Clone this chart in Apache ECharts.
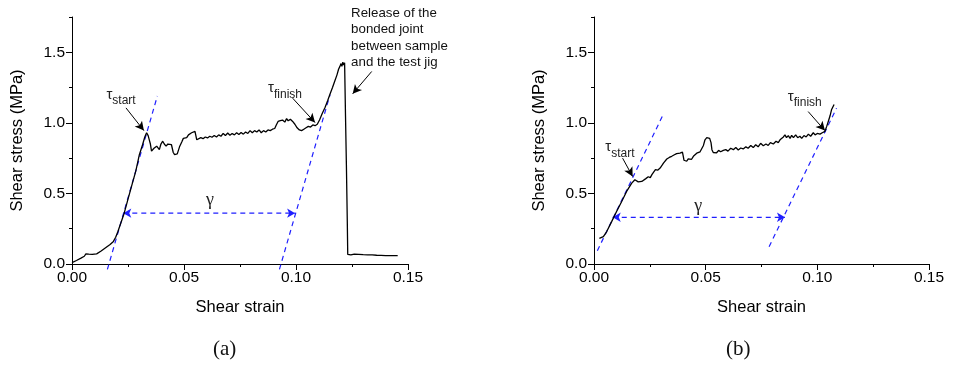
<!DOCTYPE html>
<html>
<head>
<meta charset="utf-8">
<script src="https://cdn.jsdelivr.net/npm/echarts@6/dist/echarts.min.js"></script>
<style>html,body{margin:0;padding:0;background:#fff}#c{width:955px;height:369px}</style>
</head>
<body>
<div id="c"></div>
<script>
// ---- Panel (a) curve ----
const strainA = [0.0000,0.0020,0.0040,0.0055,0.0062,0.0075,0.0090,0.0110,0.0130,0.0150,0.0170,0.0185,0.0195,0.0205,0.0218,0.0233,0.0250,0.0270,0.0285,0.0300,0.0315,0.0325,0.0333,0.0340,0.0345,0.0350,0.0355,0.0360,0.0366,0.0372,0.0378,0.0384,0.0390,0.0397,0.0405,0.0412,0.0420,0.0428,0.0436,0.0444,0.0452,0.0458,0.0463,0.0470,0.0480,0.0490,0.0497,0.0505,0.0512,0.0520,0.0527,0.0534,0.0540,0.0549,0.0553,0.0557,0.0565,0.0575,0.0585,0.0595,0.0605,0.0615,0.0625,0.0635,0.0645,0.0655,0.0665,0.0675,0.0685,0.0695,0.0705,0.0715,0.0725,0.0735,0.0745,0.0755,0.0765,0.0775,0.0785,0.0795,0.0805,0.0815,0.0825,0.0835,0.0845,0.0855,0.0865,0.0875,0.0885,0.0895,0.0905,0.0912,0.0920,0.0930,0.0940,0.0950,0.0958,0.0965,0.0975,0.0985,0.0995,0.1005,0.1015,0.1025,0.1035,0.1045,0.1055,0.1065,0.1075,0.1085,0.1095,0.1105,0.1118,0.1130,0.1142,0.1152,0.1163,0.1174,0.1183,0.1190,0.1196,0.1201,0.1205,0.1209,0.1213,0.1217,0.1219,0.1221,0.1225,0.1229,0.1231,0.1245,0.1260,0.1280,0.1300,0.1320,0.1340,0.1360,0.1380,0.1400,0.1420,0.1440,0.1454];
const stressA = [0.010,0.025,0.042,0.055,0.072,0.070,0.068,0.072,0.092,0.115,0.138,0.160,0.190,0.230,0.290,0.360,0.460,0.575,0.660,0.770,0.845,0.900,0.930,0.910,0.880,0.850,0.800,0.795,0.820,0.810,0.835,0.825,0.810,0.850,0.870,0.850,0.835,0.850,0.840,0.845,0.790,0.775,0.765,0.780,0.830,0.865,0.890,0.900,0.895,0.915,0.905,0.930,0.920,0.940,0.930,0.880,0.885,0.895,0.888,0.900,0.893,0.905,0.898,0.910,0.900,0.915,0.905,0.925,0.910,0.928,0.912,0.925,0.915,0.930,0.918,0.932,0.920,0.935,0.925,0.945,0.930,0.945,0.935,0.950,0.930,0.945,0.935,0.950,0.945,0.955,0.960,0.985,1.010,1.015,1.020,1.005,1.030,1.015,1.025,1.010,0.990,0.965,0.950,0.945,0.955,0.965,0.975,0.970,0.985,0.980,0.990,1.020,1.070,1.110,1.160,1.205,1.250,1.300,1.340,1.380,1.400,1.420,1.400,1.430,1.410,1.425,1.430,1.050,0.700,0.300,0.068,0.065,0.070,0.068,0.066,0.065,0.064,0.062,0.061,0.060,0.059,0.060,0.060];

// ---- Panel (b) curve ----
const strainB = [0.0024,0.0042,0.0057,0.0079,0.0101,0.0124,0.0146,0.0169,0.0183,0.0190,0.0198,0.0206,0.0214,0.0221,0.0232,0.0243,0.0252,0.0260,0.0268,0.0275,0.0285,0.0296,0.0305,0.0311,0.0318,0.0326,0.0337,0.0348,0.0358,0.0370,0.0378,0.0385,0.0391,0.0396,0.0400,0.0403,0.0409,0.0415,0.0422,0.0430,0.0437,0.0445,0.0452,0.0460,0.0467,0.0475,0.0482,0.0490,0.0497,0.0505,0.0512,0.0518,0.0524,0.0528,0.0534,0.0542,0.0549,0.0558,0.0567,0.0579,0.0590,0.0600,0.0612,0.0624,0.0635,0.0646,0.0657,0.0668,0.0680,0.0690,0.0702,0.0713,0.0724,0.0735,0.0746,0.0758,0.0770,0.0780,0.0790,0.0803,0.0815,0.0825,0.0833,0.0840,0.0848,0.0855,0.0862,0.0870,0.0878,0.0885,0.0893,0.0903,0.0912,0.0922,0.0930,0.0940,0.0950,0.0960,0.0970,0.0982,0.0990,0.1000,0.1012,0.1022,0.1034,0.1042,0.1049,0.1057,0.1064,0.1075];
const stressB = [0.182,0.194,0.230,0.300,0.372,0.443,0.514,0.573,0.597,0.590,0.582,0.592,0.585,0.597,0.605,0.618,0.612,0.635,0.645,0.668,0.665,0.680,0.700,0.715,0.728,0.744,0.755,0.763,0.772,0.782,0.776,0.785,0.778,0.792,0.760,0.735,0.740,0.728,0.745,0.750,0.742,0.763,0.770,0.785,0.787,0.795,0.800,0.840,0.880,0.895,0.905,0.890,0.860,0.810,0.790,0.795,0.788,0.805,0.795,0.805,0.810,0.800,0.820,0.810,0.825,0.808,0.822,0.815,0.830,0.820,0.840,0.825,0.845,0.830,0.855,0.838,0.850,0.840,0.860,0.850,0.870,0.860,0.880,0.870,0.900,0.915,0.895,0.910,0.890,0.912,0.895,0.915,0.895,0.905,0.890,0.910,0.900,0.920,0.905,0.930,0.915,0.925,0.920,0.930,0.940,0.975,1.010,1.050,1.095,1.130];

// ---- Construction lines (dashed blue) ----
const tangentA1 = [[0.0158, -0.038], [0.0381, 1.19]];
const tangentA2 = [[0.0926, -0.038], [0.1152, 1.20]];
const gammaA = { y: 0.36, x1: 0.0229, x2: 0.0996, labelX: 0.0616, labelY: 0.455 };
const tangentB1 = [[0.0015, 0.094], [0.0313, 1.069]];
const tangentB2 = [[0.0784, 0.123], [0.1086, 1.104]];
const gammaB = { y: 0.331, x1: 0.0084, x2: 0.0855, labelX: 0.0467, labelY: 0.406 };

// ---- Annotation arrows and labels ----
const startArrowA = [[0.0241, 1.106], [0.0321, 0.945]];
const finishArrowA = [[0.0985, 1.175], [0.1085, 1.002]];
const releaseArrowA = [[0.1338, 1.364], [0.1253, 1.206]];
const startLabelA = [0.0219, 1.184];
const finishLabelA = [0.0951, 1.227];
const releaseLabelA = [0.1246, 1.75];
const startArrowB = [[0.0128, 0.75], [0.0173, 0.62]];
const finishArrowB = [[0.0959, 1.08], [0.1034, 0.945]];
const startLabelB = [0.01163, 0.809];
const finishLabelB = [0.0944, 1.17];
const releaseText = 'Release of the\nbonded joint\nbetween sample\nand the test jig';

// ---- Axes ----
const xMin = 0, xMax = 0.15, xInterval = 0.05;
const yMin = 0, yMax = 1.75;
const yMajorTicks = [0, 0.5, 1.0, 1.5];
const yMinorTicks = [0.25, 0.75, 1.25, 1.75];
const panelLabels = ['(a)', '(b)'];

const FONT = 'Liberation Sans, Arial, sans-serif';
const BLUE = '#1f1fff';

function zip(xs, ys) { return xs.map((x, i) => [x, ys[i]]); }

function xAxis(gi) {
  return {
    type: 'value', gridIndex: gi, min: xMin, max: xMax, interval: xInterval,
    axisLine: { show: true, lineStyle: { color: '#000', width: 1 } },
    axisTick: { show: true, length: 6, lineStyle: { color: '#000' } },
    minorTick: { show: true, splitNumber: 2, length: 3, lineStyle: { color: '#000' } },
    splitLine: { show: false }, minorSplitLine: { show: false },
    axisLabel: { color: '#000', fontSize: 15.5, fontFamily: FONT, margin: 6,
      formatter: v => v.toFixed(2) },
    name: 'Shear strain', nameLocation: 'middle', nameGap: 35,
    nameTextStyle: { color: '#000', fontSize: 16.5, fontFamily: FONT }
  };
}
function yAxisMain(gi) {
  return {
    type: 'value', gridIndex: gi, min: yMin, max: yMax, position: 'left',
    axisLine: { show: true, lineStyle: { color: '#000', width: 1 } },
    axisTick: { show: true, length: 6, customValues: yMajorTicks, lineStyle: { color: '#000' } },
    splitLine: { show: false },
    axisLabel: { color: '#000', fontSize: 15.5, fontFamily: FONT, margin: 7,
      customValues: yMajorTicks, formatter: v => v.toFixed(1) },
    name: 'Shear stress (MPa)', nameLocation: 'middle', nameGap: 46,
    nameTextStyle: { color: '#000', fontSize: 16.5, fontFamily: FONT }
  };
}
function yAxisMinor(gi) {
  return {
    type: 'value', gridIndex: gi, min: yMin, max: yMax, position: 'left',
    axisLine: { show: false },
    axisTick: { show: true, length: 3, customValues: yMinorTicks, lineStyle: { color: '#000' } },
    splitLine: { show: false }, axisLabel: { show: false }
  };
}

function dashed(data, xi, yi) {
  return { type: 'line', xAxisIndex: xi, yAxisIndex: yi, data, symbol: 'none', clip: false,
    silent: true, color: BLUE, lineStyle: { color: BLUE, width: 1.2, type: [5, 4] }, z: 3 };
}
function gammaLine(g, xi, yi) {
  return { type: 'line', xAxisIndex: xi, yAxisIndex: yi, silent: true, color: BLUE,
    symbol: 'arrow', symbolSize: [7, 8], showSymbol: true,
    itemStyle: { color: BLUE },
    lineStyle: { color: BLUE, width: 1.2, type: [5, 4] }, z: 3,
    data: [{ value: [g.x1, g.y], symbolRotate: 90 }, { value: [g.x2, g.y], symbolRotate: -90 }] };
}
function tauLabel(coord, sub) {
  return {
    coord, symbol: 'circle', symbolSize: 0,
    label: { show: true, position: 'inside', formatter: '{t|τ}{s|' + sub + '}',
      rich: {
        t: { fontSize: 15, fontFamily: FONT, color: '#222', verticalAlign: 'top' },
        s: { fontSize: 12, fontFamily: FONT, color: '#222', padding: [8, 0, 0, 0] }
      } }
  };
}
function arrowLine(seg) {
  return [{ coord: seg[0], symbol: 'none' }, { coord: seg[1], symbol: 'arrow' }];
}

function panelSeries(gi, xs, ys, t1, t2, g, sArr, fArr, sLab, fLab, extra) {
  const xi = gi, yi = gi * 2;
  const mpData = [tauLabel(sLab, 'start'), tauLabel(fLab, 'finish'),
    { coord: [g.labelX, g.labelY], symbol: 'circle', symbolSize: 0,
      label: { show: true, position: 'inside', formatter: 'γ',
        fontSize: 18, fontFamily: 'Liberation Serif, serif', color: '#222' } }];
  const mlData = [arrowLine(sArr), arrowLine(fArr)];
  if (extra) {
    mpData.push({ coord: extra.label, symbol: 'circle', symbolSize: 0,
      label: { show: true, position: 'inside', formatter: releaseText, align: 'left',
        verticalAlign: 'top', offset: [0, -12], lineHeight: 16.5,
        fontSize: 13.3, fontFamily: FONT, color: '#111' } });
    mlData.push(arrowLine(extra.arrow));
  }
  return [
    {
      type: 'line', xAxisIndex: xi, yAxisIndex: yi, data: zip(xs, ys), symbol: 'none',
      color: '#000', lineStyle: { color: '#000', width: 1.3 }, z: 4, silent: true,
      markPoint: { silent: true, data: mpData },
      markLine: { silent: true, symbolSize: [7, 9], precision: 6,
        itemStyle: { color: '#000' },
        lineStyle: { color: '#000', width: 1, type: 'solid' }, label: { show: false },
        data: mlData }
    },
    dashed(t1, xi, yi),
    dashed(t2, xi, yi),
    gammaLine(g, xi, yi)
  ];
}

const chart = echarts.init(document.getElementById('c'), null, { renderer: 'canvas' });
chart.setOption({
  backgroundColor: '#fff',
  animation: false,
  grid: [
    { left: 72, top: 17, width: 336, height: 247 },
    { left: 594, top: 17, width: 335, height: 247 }
  ],
  xAxis: [xAxis(0), xAxis(1)],
  yAxis: [yAxisMain(0), yAxisMinor(0), yAxisMain(1), yAxisMinor(1)],
  graphic: [
    { type: 'text', left: 213, top: 339, style: { text: panelLabels[0], font: '21px "Liberation Serif", serif', fill: '#111' } },
    { type: 'text', left: 726, top: 339, style: { text: panelLabels[1], font: '21px "Liberation Serif", serif', fill: '#111' } }
  ],
  series: [
    ...panelSeries(0, strainA, stressA, tangentA1, tangentA2, gammaA,
      startArrowA, finishArrowA, startLabelA, finishLabelA,
      { label: releaseLabelA, arrow: releaseArrowA }),
    ...panelSeries(1, strainB, stressB, tangentB1, tangentB2, gammaB,
      startArrowB, finishArrowB, startLabelB, finishLabelB, null)
  ]
});
</script>
</body>
</html>
